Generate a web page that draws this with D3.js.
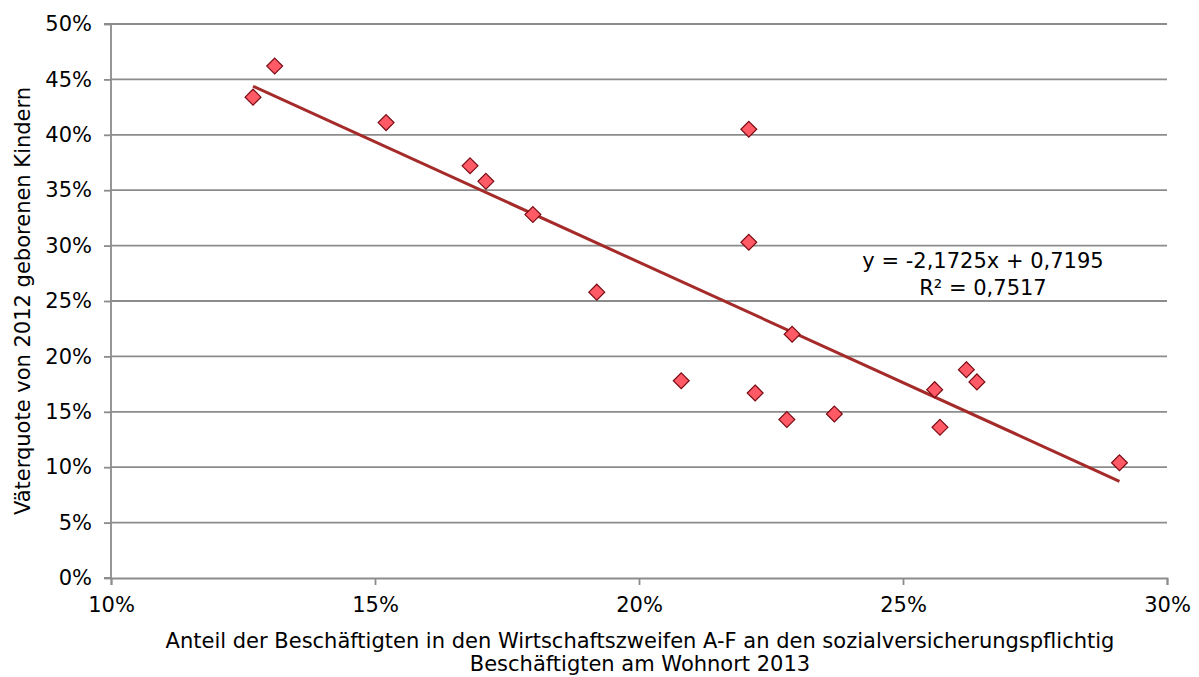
<!DOCTYPE html>
<html>
<head>
<meta charset="utf-8">
<script src="https://cdn.jsdelivr.net/npm/d3@7"></script>
<style>
  body { margin: 0; background: #fff; }
  text { font-family: "DejaVu Sans", Verdana, sans-serif; fill: #000; }
</style>
</head>
<body>
<div class="canvas"></div>
<script>
// share of employees in sectors A-F (x) vs. fathers' quota (y)
const xValues = [0.1269, 0.1310, 0.1521, 0.1680, 0.1710, 0.1799, 0.1920, 0.2080, 0.2208, 0.2208,
  0.2290, 0.2220, 0.2280, 0.2370, 0.2560, 0.2620, 0.2640, 0.2570, 0.2910];
const yValues = [0.434, 0.462, 0.411, 0.372, 0.358, 0.328, 0.258, 0.178, 0.405, 0.303,
  0.220, 0.167, 0.143, 0.148, 0.170, 0.188, 0.177, 0.136, 0.104];
const xTicks = [0.10, 0.15, 0.20, 0.25, 0.30];
const yTicks = [0, 0.05, 0.10, 0.15, 0.20, 0.25, 0.30, 0.35, 0.40, 0.45, 0.50];
const slope = -2.1725;
const intercept = 0.7195;
const eqLines = ["y = -2,1725x + 0,7195", "R² = 0,7517"];
const xTitle = ["Anteil der Beschäftigten in den Wirtschaftszweifen A-F an den sozialversicherungspflichtig",
  "Beschäftigten am Wohnort 2013"];
const yTitle = "Väterquote von 2012 geborenen Kindern";

const dims = { width: 1199, height: 677 };
const margin = { left: 111, right: 32, top: 24, bottom: 99 };
const fontSize = 21;

const svg = d3.select(".canvas").append("svg")
  .attr("width", dims.width)
  .attr("height", dims.height);

const x = d3.scaleLinear().domain([0.10, 0.30]).range([margin.left, dims.width - margin.right]);
const y = d3.scaleLinear().domain([0, 0.50]).range([dims.height - margin.bottom, margin.top]);

const pct = (d) => Math.round(d * 100) + "%";

// gridlines
svg.append("g")
  .selectAll("line")
  .data(yTicks.slice(1))
  .join("line")
  .attr("x1", x(0.10)).attr("x2", x(0.30))
  .attr("y1", (d) => y(d)).attr("y2", (d) => y(d))
  .attr("stroke", "#8c8c8c")
  .attr("stroke-width", 1.8);

// axes
const yAxis = svg.append("g")
  .attr("transform", `translate(${x(0.10)},0)`)
  .call(d3.axisLeft(y).tickValues(yTicks).tickFormat(pct).tickSize(7).tickPadding(12));
const xAxis = svg.append("g")
  .attr("transform", `translate(0,${y(0)})`)
  .call(d3.axisBottom(x).tickValues(xTicks).tickFormat(pct).tickSize(7).tickPadding(12));

[xAxis, yAxis].forEach((g) => {
  g.attr("font-size", fontSize).attr("font-family", null);
  g.select(".domain").attr("stroke", "#8c8c8c").attr("stroke-width", 1.8);
  g.selectAll(".tick line").attr("stroke", "#8c8c8c").attr("stroke-width", 1.8);
  g.selectAll("text").attr("fill", "#000");
});
yAxis.select(".domain").attr("d", `M-7,${y(0)}H0V${y(0.5)}H-7`);

// trend line
const xMin = d3.min(xValues), xMax = d3.max(xValues);
svg.append("line")
  .attr("x1", x(xMin)).attr("y1", y(slope * xMin + intercept))
  .attr("x2", x(xMax)).attr("y2", y(slope * xMax + intercept))
  .attr("stroke", "#a52a2a")
  .attr("stroke-width", 3);

// markers
const diamond = d3.symbol().type(d3.symbolDiamond2).size(160);
svg.append("g")
  .selectAll("path")
  .data(xValues.map((d, i) => ({ x: d, y: yValues[i] })))
  .join("path")
  .attr("d", diamond)
  .attr("transform", (d) => `translate(${x(d.x)},${y(d.y)})`)
  .attr("fill", "#ff5a66")
  .attr("stroke", "#7a0a12")
  .attr("stroke-width", 1.2);

// equation label
svg.append("g")
  .selectAll("text")
  .data(eqLines)
  .join("text")
  .attr("x", 983)
  .attr("y", (d, i) => 268 + i * 27)
  .attr("text-anchor", "middle")
  .attr("font-size", fontSize)
  .text((d) => d);

// axis titles
svg.append("g")
  .selectAll("text")
  .data(xTitle)
  .join("text")
  .attr("x", 640)
  .attr("y", (d, i) => 648 + i * 23)
  .attr("text-anchor", "middle")
  .attr("font-size", fontSize)
  .text((d) => d);

svg.append("text")
  .attr("transform", `translate(30,${y(0.25)}) rotate(-90)`)
  .attr("text-anchor", "middle")
  .attr("font-size", fontSize)
  .text(yTitle);
</script>
</body>
</html>
